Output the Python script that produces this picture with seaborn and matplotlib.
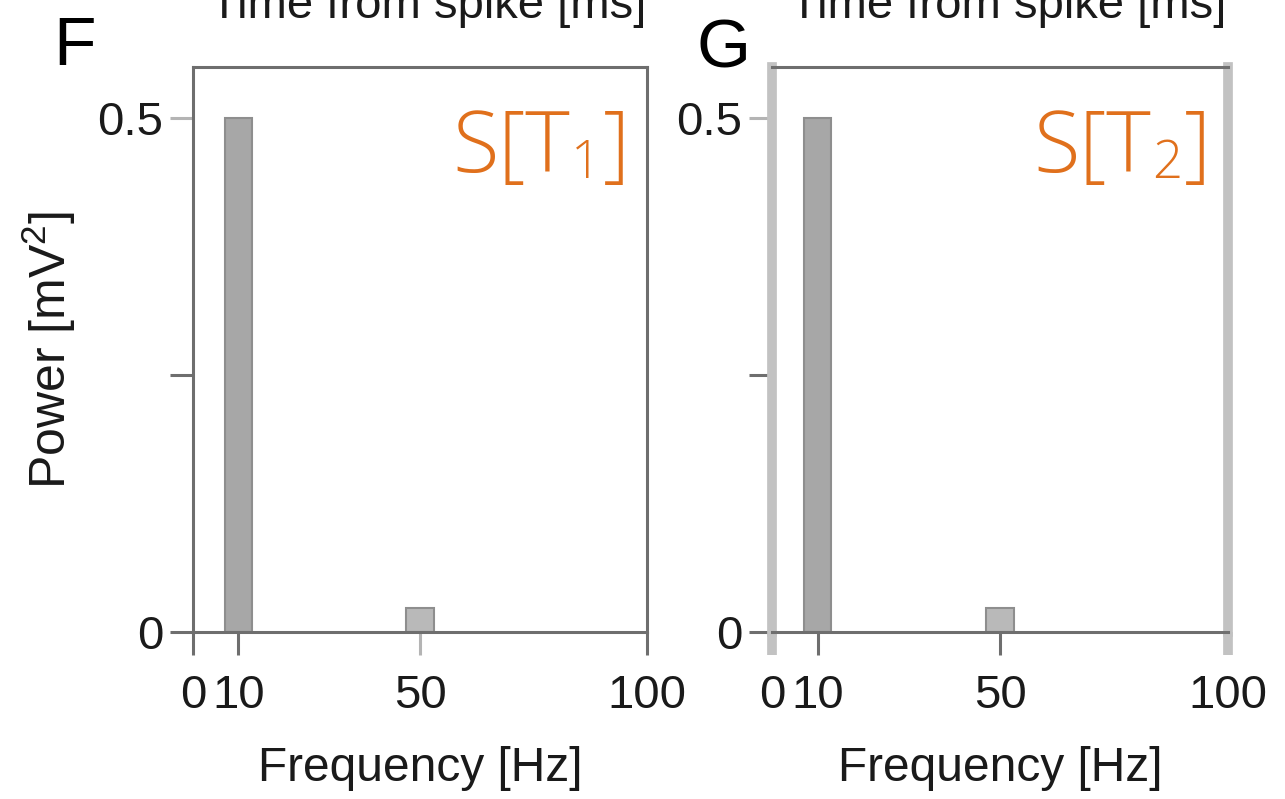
import matplotlib
matplotlib.use("Agg")
import matplotlib.pyplot as plt
import seaborn as sns
import pandas as pd

# ---- data ----
freqs = [10, 50]
power_T1 = [0.5, 0.023]
power_T2 = [0.5, 0.023]
xticks = [0, 10, 50, 100]
yticks = [0, 0.25, 0.5]
ytick_labels = ["0", "", "0.5"]
panel_labels = ["F", "G"]
titles = ["S[T", "S[T"]
subs = ["1", "2"]
top_label = "Time from spike [ms]"
xlabel = "Frequency [Hz]"
ylabel = r"Power [mV$^2$]"

sns.set_style("white")
plt.rcParams["font.family"] = ["Liberation Sans", "DejaVu Sans"]
plt.rcParams["mathtext.default"] = "regular"

W, H = 1285, 799
fig = plt.figure(figsize=(W / 100, H / 100), dpi=100)

dark = "#6e6e6e"
light = "#c2c2c2"
lighttick = "#b4b4b4"
orange = "#e0701c"
bar_colors = ["#a7a7a7", "#b9b9b9"]
txt = "#1a1a1a"

axes_px = [(193, 647), (772, 1228)]
top_px, bot_px = 67, 632
tfam = ["Open Sans", "DejaVu Sans"]
tw = "light"

for i, (powers, (l, r)) in enumerate(zip([power_T1, power_T2], axes_px)):
    ax = fig.add_axes([l / W, 1 - bot_px / H, (r - l) / W, (bot_px - top_px) / H])
    df = pd.DataFrame({"freq": freqs, "power": powers})
    sns.barplot(data=df, x="freq", y="power", native_scale=True, width=0.15,
                color=bar_colors[0], edgecolor="#8e8e8e", linewidth=1.5, ax=ax)
    for p, c in zip(ax.patches, bar_colors):
        p.set_facecolor(c)
    ax.set_xlim(0, 100)
    ax.set_ylim(0, 0.55)
    ax.set_xticks(xticks)
    ax.set_xticklabels([str(t) for t in xticks])
    ax.set_yticks(yticks)
    ax.set_yticklabels(ytick_labels)
    ax.tick_params(direction="out", length=16.5, width=2.2, color=dark,
                   labelsize=34, labelcolor=txt, bottom=True, left=True)
    ax.tick_params(axis="x", pad=14)
    ax.tick_params(axis="y", pad=5)
    for s in ax.spines.values():
        s.set_color(dark)
        s.set_linewidth(2.2)
        s.set_visible(True)
    ax.set_xlabel(xlabel, fontsize=34.5, labelpad=20, color=txt)
    if i == 0:
        ax.set_ylabel(ylabel, fontsize=36, labelpad=14, color=txt)
    else:
        ax.set_ylabel("")
        for side in ("left", "right"):
            ax.spines[side].set_color(light)
            ax.spines[side].set_linewidth(7)
        for k in (0, 3):
            tk = ax.xaxis.get_major_ticks()[k]
            tk.tick1line.set_markeredgecolor(light)
            tk.tick1line.set_markeredgewidth(7)
    # lighter ticks
    ax.yaxis.get_major_ticks()[2].tick1line.set_markeredgecolor(lighttick)
    if i == 0:
        ax.xaxis.get_major_ticks()[2].tick1line.set_markeredgecolor(lighttick)
    ax.grid(False)

    # title S[T_n]
    tb = ax.text(0.962, 0.815, "]", transform=ax.transAxes, ha="right",
                 va="baseline", fontsize=61, color=orange, family=tfam,
                 fontweight=tw)
    ts = ax.annotate(subs[i], xy=(0, 0.815), xycoords=(tb, "axes fraction"),
                     xytext=(-1, -5), textcoords="offset points", ha="right",
                     va="baseline", fontsize=38, color=orange, family=tfam,
                     fontweight=tw)
    ax.annotate(titles[i], xy=(0, 0.815), xycoords=(ts, "axes fraction"),
                xytext=(-1, 0), textcoords="offset points", ha="right",
                va="baseline", fontsize=61, color=orange, family=tfam,
                fontweight=tw)

    # cropped label from the panel above
    fig.text(((l + r) / 2 + 8) / W, 1 - 18 / H, top_label, ha="center",
             va="baseline", fontsize=34, color=txt)

fig.text(53 / W, 1 - 65 / H, panel_labels[0], fontsize=50, color="black")
fig.text(696 / W, 1 - 67 / H, panel_labels[1], fontsize=50, color="black")

fig.savefig("out.png", dpi=100)
